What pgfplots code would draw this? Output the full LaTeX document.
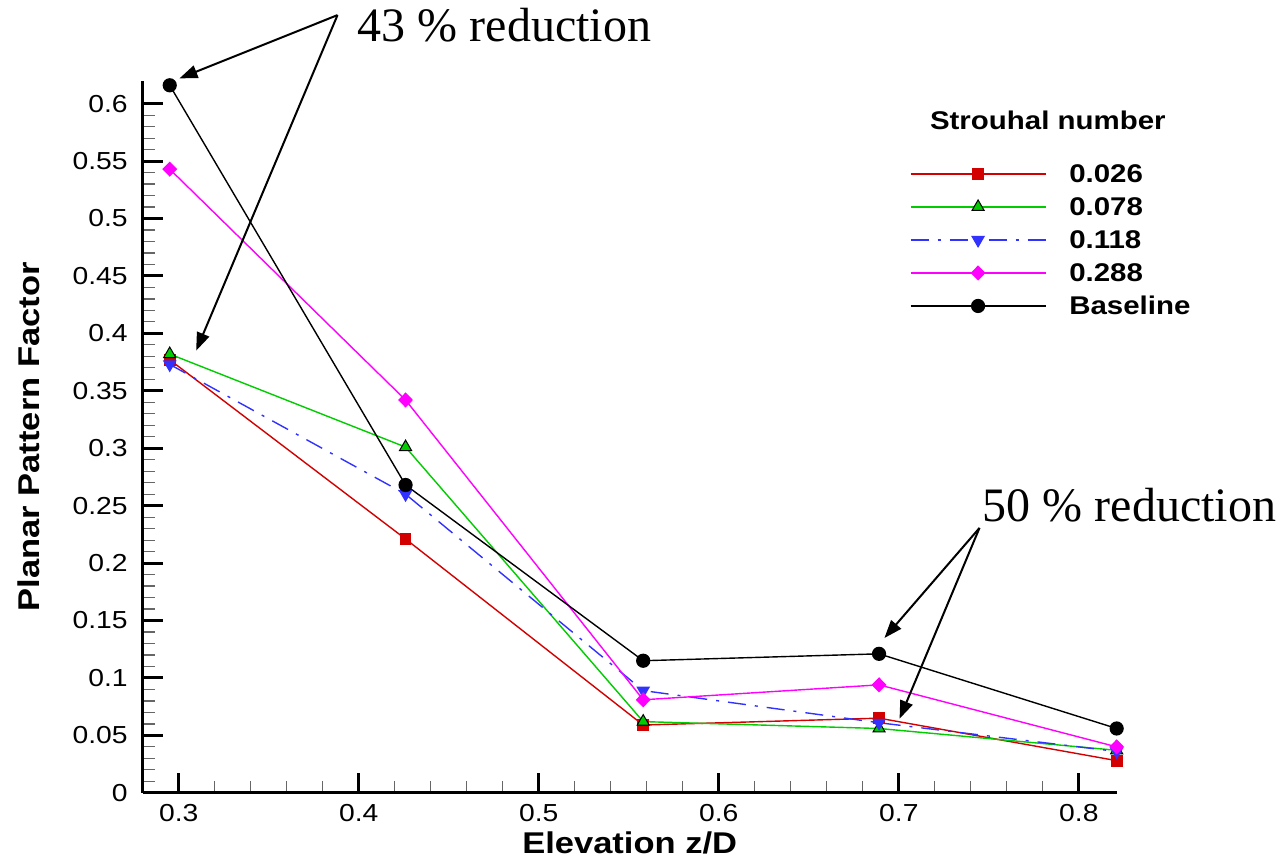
\documentclass[border=0pt]{standalone}
\usepackage{fontspec}
\setmainfont{Liberation Sans}[FakeStretch=1.15]
\newfontfamily\serifann{Liberation Serif}
\usepackage{pgfplots}
\pgfplotsset{compat=1.18}
\usetikzlibrary{arrows.meta}
\definecolor{cred}{RGB}{210,0,0}
\definecolor{cgreen}{RGB}{0,204,0}
\definecolor{cblue}{RGB}{50,50,255}
\definecolor{cmag}{RGB}{255,0,255}
\begin{document}
\begin{tikzpicture}
\begin{axis}[
  scale only axis,
  width=486.9pt, height=356pt,
  xmin=0.28, xmax=0.821,
  ymin=0, ymax=0.62,
  clip=false,
  axis lines=left,
  axis line style={-, line width=1.5pt},
  xtick={0.3,0.4,0.5,0.6,0.7,0.8},
  ytick={0,0.05,...,0.61},
  minor x tick num=4,
  minor y tick num=4,
  tick align=inside,
  major tick length=10pt,
  minor tick length=6pt,
  major tick style={line width=1.5pt, black},
  minor tick style={line width=0.6pt, black!60},
  /pgf/number format/assume math mode=true,
  /pgf/number format/fixed,
  /pgf/number format/precision=2,
  ticklabel style={font=\fontsize{12.3}{14}\selectfont},
  yticklabel style={inner sep=0pt, xshift=-7.3pt},
  xticklabel style={inner sep=0pt, yshift=-5.5pt},
  xlabel={Elevation z/D},
  ylabel={Planar Pattern Factor},
  label style={font=\bfseries\fontsize{15}{18}\selectfont},
  xlabel style={at={(axis description cs:0.5,0)}, anchor=center, yshift=-25pt},
  ylabel style={at={([xshift=-57pt]axis description cs:0,0.5)}, anchor=center, rotate=0},
  legend image code/.code={\draw[mark repeat=2,mark phase=2] plot coordinates {(0pt,0pt) (33.75pt,0pt) (67.5pt,0pt)};},
  legend cell align=left,
  legend style={at={(axis cs:0.7059,0.547)}, anchor=north west, draw=none, fill=none, inner sep=0pt,
    row sep=7.5pt, font=\bfseries\fontsize{12.8}{14}\selectfont,
    nodes={inner sep=0pt, text height=9pt, text depth=0pt},
    /tikz/every odd column/.append style={column sep=11.5pt}},
]
\addplot[cred, line width=0.7pt, mark=square*, mark size=2.6pt, mark options={solid, fill=cred, draw=cred}]
  coordinates {(0.295,0.377) (0.426,0.221) (0.558,0.059) (0.689,0.065) (0.821,0.028)};
\addlegendentry{0.026}
\addplot[cgreen, line width=0.7pt, mark=triangle*, mark size=3.5pt, mark options={solid, fill=cgreen, draw=black, line width=0.5pt}]
  coordinates {(0.295,0.382) (0.426,0.301) (0.558,0.062) (0.689,0.056) (0.821,0.037)};
\addlegendentry{0.078}
\addplot[cblue, line width=0.7pt, dash pattern=on 9pt off 4.5pt on 1.5pt off 4.5pt, mark=triangle*, mark size=3.3pt, mark options={solid, rotate=180, fill=cblue, draw=cblue}]
  coordinates {(0.295,0.373) (0.426,0.260) (0.558,0.089) (0.689,0.061) (0.821,0.036)};
\addlegendentry{0.118}
\addplot[cmag, line width=0.7pt, mark=diamond*, mark size=3.3pt, mark options={solid, fill=cmag, draw=cmag, xscale=1.3}]
  coordinates {(0.295,0.543) (0.426,0.342) (0.558,0.081) (0.689,0.094) (0.821,0.040)};
\addlegendentry{0.288}
\addplot[black, line width=0.7pt, mark=*, mark size=3.2pt, mark options={solid, fill=black}]
  coordinates {(0.295,0.616) (0.426,0.268) (0.558,0.115) (0.689,0.121) (0.821,0.056)};
\addlegendentry{Baseline}

\node[anchor=west, font=\bfseries\fontsize{12.8}{14}\selectfont, inner sep=0pt] at (axis cs:0.7171,0.5854) {Strouhal number};

\draw[line width=1pt, -{Triangle[length=9pt,width=6.5pt]}] (axis cs:0.3882,0.6771) -- (axis cs:0.3004,0.622);
\draw[line width=1pt, -{Triangle[length=9pt,width=6.5pt]}] (axis cs:0.3882,0.6771) -- (axis cs:0.3097,0.385);
\node[anchor=base west, inner sep=0pt, font=\serifann\fontsize{24}{28}\selectfont] at (axis cs:0.3993,0.654) {43 \% reduction};

\draw[line width=1pt, -{Triangle[length=9pt,width=6.5pt]}] (axis cs:0.7448,0.2306) -- (axis cs:0.6920,0.1348);
\draw[line width=1pt, -{Triangle[length=9pt,width=6.5pt]}] (axis cs:0.7448,0.2306) -- (axis cs:0.7004,0.0645);
\node[anchor=base west, inner sep=0pt, font=\serifann\fontsize{24}{28}\selectfont] at (axis cs:0.7465,0.2363) {50 \% reduction};

\coordinate (bl) at (rel axis cs:0,0);
\coordinate (tr) at (rel axis cs:1,1);
\end{axis}
\pgfresetboundingbox
\path[use as bounding box] ([shift={(-71.35pt,-33pt)}]bl) rectangle ([shift={(83.15pt,40.35pt)}]tr);
\end{tikzpicture}
\end{document}
